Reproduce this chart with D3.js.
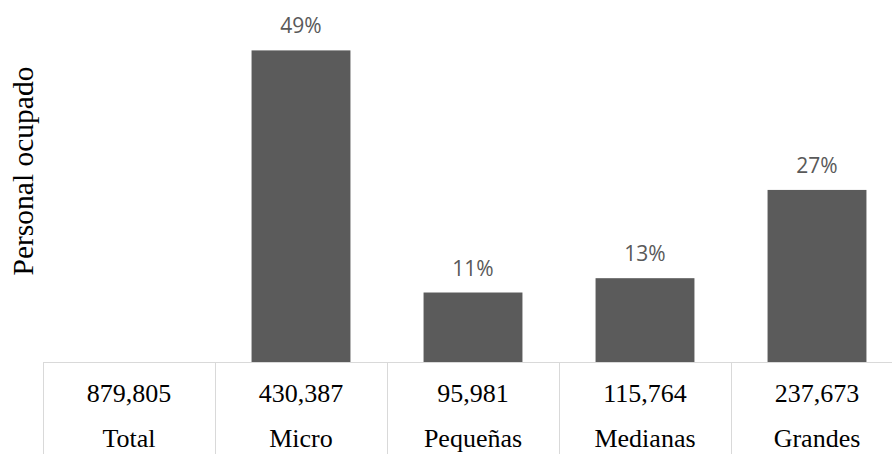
<!DOCTYPE html>
<html>
<head>
<meta charset="utf-8">
<script src="https://cdn.jsdelivr.net/npm/d3@7"></script>
<style>
  body { margin: 0; background: #fff; }
</style>
</head>
<body>
<div id="chart-area"></div>
<script>
// personal ocupado por tamaño de empresa
var categories = ["Total", "Micro", "Pequeñas", "Medianas", "Grandes"]
var personal = [879805, 430387, 95981, 115764, 237673]
var percents = ["", "49%", "11%", "13%", "27%"]
var yMax = 500000

var width = 892,
    height = 454

var tableTop = 362,
    tableLeft = 43,
    tableRight = 903

var svg = d3.select("#chart-area").append("svg")
    .attr("width", width)
    .attr("height", height)

var data = categories.map(function(c, i) {
  return { cat: c, value: personal[i], pct: percents[i] }
})

var x = d3.scaleBand()
    .domain(categories)
    .range([tableLeft, tableRight])
    .paddingInner(0.425)
    .paddingOuter(0.2125)

var y = d3.scaleLinear()
    .domain([0, yMax])
    .range([tableTop, 0])

var bars = data.filter(function(d) { return d.cat != "Total" })

svg.selectAll("rect.bar")
    .data(bars)
  .enter().append("rect")
    .attr("class", "bar")
    .attr("x", function(d) { return x(d.cat) })
    .attr("y", function(d) { return y(d.value) })
    .attr("width", x.bandwidth())
    .attr("height", function(d) { return tableTop - y(d.value) })
    .attr("fill", "#5b5b5b")

svg.selectAll("text.pct")
    .data(bars)
  .enter().append("text")
    .attr("class", "pct")
    .attr("x", function(d) { return x(d.cat) + x.bandwidth() / 2 })
    .attr("y", function(d) { return y(d.value) - 17 })
    .attr("text-anchor", "middle")
    .attr("font-family", "'Open Sans', sans-serif")
    .attr("font-size", "21px")
    .attr("fill", "#595959")
    .text(function(d) { return d.pct })

// table below the bars
var half = x.step() * x.paddingInner() / 2

svg.append("line")
    .attr("x1", tableLeft).attr("x2", width)
    .attr("y1", tableTop + 0.5).attr("y2", tableTop + 0.5)
    .attr("stroke", "#d9d9d9")

svg.selectAll("line.col")
    .data(categories)
  .enter().append("line")
    .attr("class", "col")
    .attr("x1", function(d) { return Math.round(x(d) - half) + 0.5 })
    .attr("x2", function(d) { return Math.round(x(d) - half) + 0.5 })
    .attr("y1", tableTop)
    .attr("y2", height)
    .attr("stroke", "#d9d9d9")

var fmt = d3.format(",")

svg.selectAll("text.val")
    .data(data)
  .enter().append("text")
    .attr("class", "val")
    .attr("x", function(d) { return x(d.cat) + x.bandwidth() / 2 })
    .attr("y", 402)
    .attr("text-anchor", "middle")
    .attr("font-family", "'Liberation Serif', serif")
    .attr("font-size", "26px")
    .text(function(d) { return fmt(d.value) })

svg.selectAll("text.cat")
    .data(data)
  .enter().append("text")
    .attr("class", "cat")
    .attr("x", function(d) { return x(d.cat) + x.bandwidth() / 2 })
    .attr("y", 447)
    .attr("text-anchor", "middle")
    .attr("font-family", "'Liberation Serif', serif")
    .attr("font-size", "26px")
    .text(function(d) { return d.cat })

svg.append("text")
    .attr("transform", "translate(33,171) rotate(-90)")
    .attr("text-anchor", "middle")
    .attr("font-family", "'Liberation Serif', serif")
    .attr("font-size", "29.5px")
    .text("Personal ocupado")
</script>
</body>
</html>
